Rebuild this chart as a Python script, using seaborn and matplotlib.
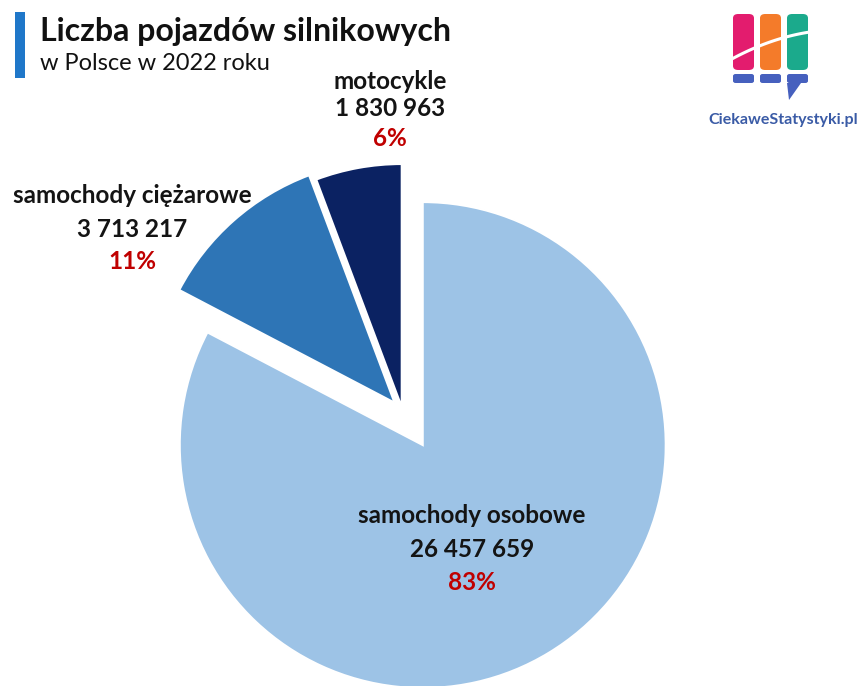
import matplotlib
matplotlib.use("Agg")
import matplotlib.pyplot as plt
import seaborn as sns
import numpy as np
from matplotlib.patches import FancyBboxPatch, Rectangle, Polygon

# --- data -------------------------------------------------------------
categories = ["samochody osobowe", "samochody ciężarowe", "motocykle"]
counts = [26457659, 3713217, 1830963]
count_labels = ["26 457 659", "3 713 217", "1 830 963"]
pct_labels = ["83%", "11%", "6%"]

title = "Liczba pojazdów silnikowych"
subtitle = "w Polsce w 2022 roku"
brand = "CiekaweStatystyki.pl"

# --- style ------------------------------------------------------------
sns.set_theme(style="white")
plt.rcParams["font.family"] = ["Lato", "DejaVu Sans"]

colors = ["#9DC3E6", "#2E75B6", "#0B2262"]
explode = [0.16, 0.05, 0.02]

W, H = 861, 686
fig = plt.figure(figsize=(W / 100, H / 100), dpi=100)
fig.patch.set_facecolor("white")

# pie axes: whole canvas, 1 data unit == pie radius in pixels
R = 243.0
cx, cy = 402.6, 411.8
ax = fig.add_axes([0, 0, 1, 1])
ax.pie(counts, colors=colors, startangle=90, counterclock=False,
       explode=explode, radius=1.0,
       wedgeprops=dict(edgecolor="white", linewidth=1.5))
ax.set_xlim(-cx / R, (W - cx) / R)
ax.set_ylim(-(H - cy) / R, cy / R)
ax.set_aspect("equal", adjustable="datalim")
ax.axis("off")


def fx(x):
    return x / W


def fy(y):
    return 1 - y / H


# --- title block ------------------------------------------------------
fig.add_artist(Rectangle((fx(15), fy(78)), 10 / W, 66 / H,
                         transform=fig.transFigure, color="#1F77C9", lw=0))
fig.text(fx(40), fy(41), title, fontsize=23, fontweight="bold",
         color="#111111", va="baseline", ha="left")
fig.text(fx(40), fy(70), subtitle, fontsize=17, color="#111111",
         va="baseline", ha="left")

# --- slice labels -----------------------------------------------------
label_specs = [
    (472, [523, 557, 590]),   # samochody osobowe
    (132, [203, 237, 269]),   # samochody ciężarowe
    (390, [89, 116, 146]),    # motocykle
]
for i, (x, ys) in enumerate(label_specs):
    fig.text(fx(x), fy(ys[0]), categories[i], fontsize=17.5, fontweight="bold",
             color="#141414", ha="center", va="baseline")
    fig.text(fx(x), fy(ys[1]), count_labels[i], fontsize=17.5, fontweight="bold",
             color="#141414", ha="center", va="baseline")
    fig.text(fx(x), fy(ys[2]), pct_labels[i], fontsize=17.5, fontweight="bold",
             color="#C00000", ha="center", va="baseline")

# --- brand logo -------------------------------------------------------
logo_cols = [(733, "#E31C6E"), (760, "#F47B2A"), (787, "#1BAA8C")]
for x0, c in logo_cols:
    fig.add_artist(FancyBboxPatch((fx(x0), fy(70)), 21 / W, 56 / H,
                                  boxstyle="round,pad=0,rounding_size=0.006",
                                  transform=fig.transFigure, color=c, lw=0))
    fig.add_artist(FancyBboxPatch((fx(x0), fy(83)), 21 / W, 9 / H,
                                  boxstyle="round,pad=0,rounding_size=0.003",
                                  transform=fig.transFigure, color="#4660BE", lw=0))
fig.add_artist(Polygon([(fx(787), fy(83)), (fx(801), fy(83)), (fx(789), fy(100))],
                       closed=True, transform=fig.transFigure,
                       color="#4660BE", lw=0))
t = np.linspace(0, 1, 40)
arc_x = 730 + 80 * t
arc_y = 60 - 44 * t + 16 * t ** 2
fig.add_artist(plt.Line2D(fx(arc_x), fy(arc_y), transform=fig.transFigure,
                          color="white", lw=2.2, solid_capstyle="round"))
fig.text(fx(858), fy(124), brand, fontsize=11.5, fontweight="bold",
         color="#3A5BA6", ha="right", va="baseline")

fig.savefig("out.png", dpi=100, facecolor="white")
